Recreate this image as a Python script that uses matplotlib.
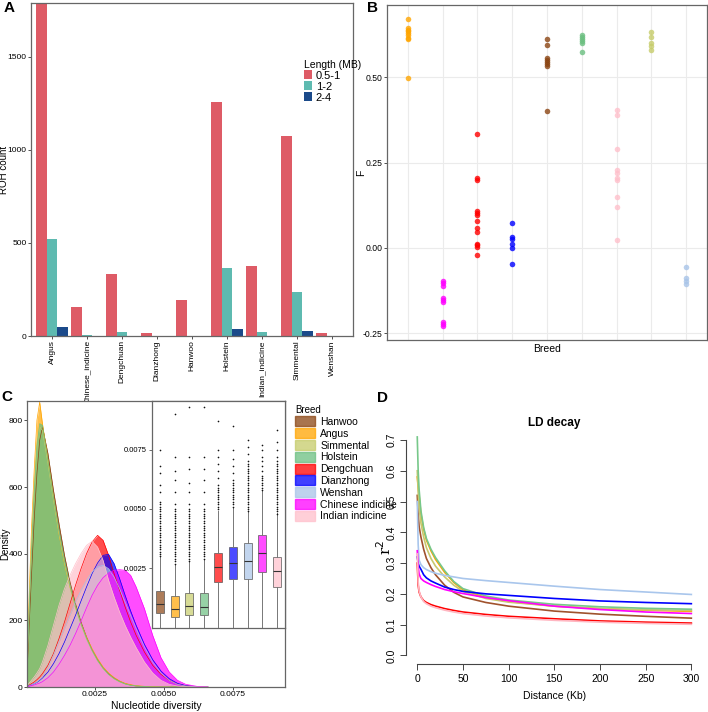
import matplotlib
matplotlib.use("Agg")
import matplotlib.pyplot as plt
from matplotlib.patches import Patch

plt.rcParams['font.family'] = ['Liberation Sans', 'DejaVu Sans']

W, H = 708, 712


def px_box(l, t, r, b):
    # pixel box (left, top, right, bottom) -> figure fraction rect
    return [l / W, 1 - b / H, (r - l) / W, (b - t) / H]


# ---------------- data ----------------
# A: ROH counts per breed and length class
roh_breeds = ['Angus', 'Chinese_indicine', 'Dengchuan', 'Dianzhong', 'Hanwoo',
              'Holstein', 'Indian_indicine', 'Simmental', 'Wenshan']
roh_05_1 = [1790, 157, 335, 15, 195, 1256, 375, 1075, 15]
roh_1_2 = [522, 5, 22, 0, 0, 364, 22, 238, 0]
roh_2_4 = [48, 0, 0, 0, 0, 37, 0, 25, 0]
roh_classes = ['0.5-1', '1-2', '2-4']

# B: inbreeding coefficient F per individual (same breed order as A)
f_angus = [0.671, 0.645, 0.640, 0.635, 0.630, 0.625, 0.615, 0.612, 0.498]
f_chinese = [-0.096, -0.103, -0.110, -0.147, -0.152, -0.158, -0.218, -0.222, -0.228]
f_dengchuan = [0.334, 0.205, 0.200, 0.107, 0.103, 0.098, 0.078, 0.060, 0.046, 0.013, 0.008, 0.003, -0.021]
f_dianzhong = [0.073, 0.031, 0.027, 0.012, 0.0, -0.046]
f_hanwoo = [0.611, 0.595, 0.556, 0.550, 0.544, 0.538, 0.532, 0.402]
f_holstein = [0.625, 0.618, 0.613, 0.606, 0.600, 0.573]
f_indian = [0.404, 0.391, 0.289, 0.229, 0.220, 0.205, 0.200, 0.149, 0.119, 0.023]
f_simmental = [0.632, 0.617, 0.601, 0.591, 0.581]
f_wenshan = [-0.056, -0.089, -0.096, -0.105]
f_values = [f_angus, f_chinese, f_dengchuan, f_dianzhong, f_hanwoo,
            f_holstein, f_indian, f_simmental, f_wenshan]

# C: breed order used in the density / boxplot panel
breeds = ['Hanwoo', 'Angus', 'Simmental', 'Holstein', 'Dengchuan',
          'Dianzhong', 'Wenshan', 'Chinese indicine', 'Indian indicine']
breed_colors = {'Hanwoo': '#8B4513', 'Angus': '#FFA500', 'Simmental': '#C6CC6A',
                'Holstein': '#6BBF80', 'Dengchuan': '#FF0000', 'Dianzhong': '#0000FF',
                'Wenshan': '#A8C4E8', 'Chinese indicine': '#FF00FF',
                'Indian indicine': '#FFC0CB'}

diversity = [0.00004, 0.0001, 0.0002, 0.0003, 0.0004, 0.0005, 0.0006, 0.0008,
             0.0010, 0.0012, 0.0014, 0.0016, 0.0018, 0.0020, 0.0022, 0.0024,
             0.0026, 0.0028, 0.0030, 0.0032, 0.0034, 0.0036, 0.0038, 0.0040,
             0.0043, 0.0046, 0.0049, 0.0052, 0.0055, 0.0058, 0.0062, 0.0066]
dens_hanwoo = [40, 150, 330, 500, 640, 740, 780, 700, 590, 490, 395, 315, 250, 195, 150, 112,
               82, 58, 40, 27, 17, 10, 6, 3, 1, 0, 0, 0, 0, 0, 0, 0]
dens_angus = [60, 230, 470, 650, 800, 855, 790, 680, 570, 460, 370, 300, 240, 190, 150, 115,
              85, 60, 42, 28, 18, 11, 7, 4, 2, 1, 0, 0, 0, 0, 0, 0]
dens_simmental = [50, 200, 420, 600, 730, 780, 770, 670, 560, 460, 372, 298, 236, 186, 143, 108,
                  78, 55, 37, 24, 15, 9, 5, 3, 1, 0, 0, 0, 0, 0, 0, 0]
dens_holstein = [50, 190, 400, 580, 720, 790, 785, 680, 570, 470, 380, 305, 242, 190, 146, 110,
                 80, 56, 38, 25, 16, 9, 5, 3, 1, 0, 0, 0, 0, 0, 0, 0]
dens_dengchuan = [2, 5, 10, 15, 22, 30, 40, 65, 100, 145, 195, 250, 305, 355, 400, 435,
                  455, 440, 395, 340, 290, 240, 195, 155, 105, 65, 38, 20, 9, 4, 1, 0]
dens_dianzhong = [1, 3, 6, 10, 14, 20, 27, 45, 70, 100, 135, 175, 215, 258, 300, 340,
                  372, 395, 398, 370, 325, 275, 228, 185, 128, 82, 48, 25, 11, 4, 1, 0]
dens_wenshan = [1, 3, 6, 10, 15, 22, 30, 58, 95, 135, 175, 215, 255, 290, 320, 345,
                360, 365, 355, 330, 295, 255, 215, 175, 120, 75, 42, 20, 8, 3, 1, 0]
dens_chinese = [1, 2, 4, 6, 9, 12, 16, 28, 45, 68, 95, 125, 160, 198, 238, 275,
                305, 328, 342, 350, 352, 350, 335, 300, 235, 155, 88, 45, 20, 8, 2, 0]
dens_indian = [5, 10, 20, 30, 42, 55, 75, 125, 185, 245, 295, 335, 370, 400, 425, 437,
               420, 380, 320, 270, 225, 185, 150, 118, 75, 42, 20, 8, 3, 1, 0, 0]
densities = [dens_hanwoo, dens_angus, dens_simmental, dens_holstein, dens_dengchuan,
             dens_dianzhong, dens_wenshan, dens_chinese, dens_indian]

# C inset: boxplot summaries (same order as breeds)
box_q1 = [0.00061, 0.00044, 0.00053, 0.00053, 0.00194, 0.00204, 0.00204, 0.00234, 0.00173]
box_med = [0.00100, 0.00080, 0.00092, 0.00089, 0.00257, 0.00271, 0.00279, 0.00313, 0.00237]
box_q3 = [0.00156, 0.00134, 0.00145, 0.00145, 0.00316, 0.00338, 0.00355, 0.00389, 0.00296]
box_lo = [0.00002, 0.00002, 0.00002, 0.00002, 0.00002, 0.00002, 0.00002, 0.00002, 0.00002]
box_hi = [0.00299, 0.00264, 0.00278, 0.00285, 0.00490, 0.00502, 0.00488, 0.00579, 0.00482]
out_hanwoo = [0.0030, 0.0031, 0.0032, 0.0033, 0.0034, 0.0035, 0.0036, 0.0037, 0.0038, 0.0039,
              0.0040, 0.0041, 0.0042, 0.0043, 0.0044, 0.0045, 0.0046, 0.0047, 0.0048, 0.0049,
              0.0050, 0.0051, 0.0052, 0.0053, 0.0057, 0.0060, 0.0065, 0.0068, 0.0075]
out_angus = [0.0027, 0.0028, 0.0029, 0.0030, 0.0031, 0.0032, 0.0033, 0.0034, 0.0035, 0.0036,
             0.0037, 0.0038, 0.0039, 0.0040, 0.0041, 0.0042, 0.0043, 0.0044, 0.0045, 0.0046,
             0.0047, 0.0048, 0.0049, 0.0050, 0.0052, 0.0057, 0.0062, 0.0066, 0.0072, 0.0090]
out_simmental = [0.0028, 0.0029, 0.0030, 0.0031, 0.0032, 0.0033, 0.0034, 0.0035, 0.0036, 0.0037,
                 0.0038, 0.0039, 0.0040, 0.0041, 0.0042, 0.0043, 0.0044, 0.0045, 0.0046, 0.0047,
                 0.0048, 0.0049, 0.0050, 0.0052, 0.0057, 0.0061, 0.0067, 0.0072, 0.0093]
out_holstein = [0.0029, 0.0030, 0.0031, 0.0032, 0.0033, 0.0034, 0.0035, 0.0036, 0.0037, 0.0038,
                0.0039, 0.0040, 0.0041, 0.0042, 0.0043, 0.0044, 0.0045, 0.0046, 0.0047, 0.0048,
                0.0049, 0.0050, 0.0052, 0.0057, 0.0062, 0.0067, 0.0072, 0.0093]
out_dengchuan = [0.0050, 0.0051, 0.0052, 0.0053, 0.0054, 0.0055, 0.0056, 0.0057, 0.0058, 0.0059,
                 0.0060, 0.0063, 0.0066, 0.0069, 0.0072, 0.0075, 0.0087]
out_dianzhong = [0.0051, 0.0052, 0.0053, 0.0054, 0.0055, 0.0056, 0.0057, 0.0058, 0.0059, 0.0060,
                 0.0061, 0.0062, 0.0065, 0.0068, 0.0071, 0.0075, 0.0085]
out_wenshan = [0.0049, 0.0050, 0.0051, 0.0052, 0.0053, 0.0054, 0.0055, 0.0056, 0.0057, 0.0058,
               0.0059, 0.0060, 0.0061, 0.0062, 0.0063, 0.0064, 0.0065, 0.0066, 0.0067, 0.0068,
               0.0069, 0.0070, 0.0073, 0.0076, 0.0079]
out_chinese = [0.0058, 0.0059, 0.0060, 0.0061, 0.0062, 0.0063, 0.0064, 0.0066, 0.0068, 0.0070,
               0.0072, 0.0075, 0.0077]
out_indian = [0.0048, 0.0049, 0.0050, 0.0051, 0.0052, 0.0053, 0.0054, 0.0055, 0.0056, 0.0057,
              0.0058, 0.0059, 0.0060, 0.0061, 0.0062, 0.0063, 0.0064, 0.0065, 0.0066, 0.0067,
              0.0068, 0.0069, 0.0070, 0.0072, 0.0075, 0.0078, 0.0083]
box_out = [out_hanwoo, out_angus, out_simmental, out_holstein, out_dengchuan,
           out_dianzhong, out_wenshan, out_chinese, out_indian]

# D: LD decay (r^2 against distance in Kb)
ld_dist = [0, 1, 2, 4, 7, 10, 15, 20, 30, 40, 50, 75, 100, 150, 200, 250, 300]
ld_hanwoo = [0.52, 0.46, 0.42, 0.385, 0.345, 0.315, 0.285, 0.262, 0.228, 0.205, 0.19, 0.172, 0.16, 0.144, 0.134, 0.127, 0.121]
ld_angus = [0.58, 0.55, 0.52, 0.46, 0.41, 0.375, 0.34, 0.312, 0.27, 0.237, 0.213, 0.188, 0.175, 0.16, 0.152, 0.147, 0.143]
ld_simmental = [0.60, 0.53, 0.48, 0.43, 0.385, 0.35, 0.315, 0.29, 0.255, 0.228, 0.208, 0.185, 0.173, 0.16, 0.152, 0.148, 0.146]
ld_holstein = [0.71, 0.60, 0.54, 0.47, 0.415, 0.38, 0.345, 0.318, 0.275, 0.24, 0.217, 0.193, 0.18, 0.166, 0.158, 0.153, 0.150]
ld_dengchuan = [0.30, 0.228, 0.206, 0.19, 0.178, 0.172, 0.165, 0.16, 0.152, 0.146, 0.141, 0.133, 0.127, 0.119, 0.112, 0.108, 0.105]
ld_dianzhong = [0.32, 0.30, 0.29, 0.28, 0.262, 0.252, 0.242, 0.235, 0.222, 0.214, 0.208, 0.20, 0.195, 0.185, 0.177, 0.172, 0.168]
ld_wenshan = [0.50, 0.36, 0.31, 0.295, 0.285, 0.279, 0.272, 0.267, 0.26, 0.255, 0.25, 0.243, 0.237, 0.225, 0.214, 0.206, 0.198]
ld_chinese = [0.34, 0.29, 0.265, 0.25, 0.242, 0.237, 0.23, 0.224, 0.214, 0.207, 0.201, 0.188, 0.178, 0.16, 0.149, 0.141, 0.136]
ld_indian = [0.33, 0.24, 0.21, 0.19, 0.175, 0.168, 0.16, 0.155, 0.147, 0.141, 0.136, 0.128, 0.122, 0.114, 0.108, 0.104, 0.101]
ld_curves = [ld_hanwoo, ld_angus, ld_simmental, ld_holstein, ld_dengchuan,
             ld_dianzhong, ld_wenshan, ld_chinese, ld_indian]
ld_colors = ['#A0522D', '#FFA500', '#C8C86E', '#77C88A', '#FF0000',
             '#0000FF', '#A9C6EC', '#FF00FF', '#FFB6C1']

# ---------------- figure ----------------
fig = plt.figure(figsize=(W / 100, H / 100), dpi=100)
frame_col = '#666666'
tick_fs = 6

# ---- A ----
axA = fig.add_axes(px_box(31, 3, 353, 336))
pos = list(range(1, len(roh_breeds) + 1))
roh_cols = ['#DE5B66', '#5EBAB0', '#1B4A8A']
for k, (vals, col) in enumerate(zip([roh_05_1, roh_1_2, roh_2_4], roh_cols)):
    axA.bar([p + (k - 1) * 0.3 for p in pos], vals, 0.3, color=col, label=roh_classes[k])
axA.set_xlim(0.4, 9.6)
axA.set_ylim(0, 1790)
axA.set_xticks(pos)
axA.set_xticklabels(roh_breeds, rotation=90, fontsize=6.5)
axA.set_yticks([0, 500, 1000, 1500])
axA.tick_params(labelsize=tick_fs, length=2, width=0.6, color='#333333', pad=1)
axA.set_ylabel('ROH count', fontsize=7)
axA.yaxis.set_label_coords(-0.068, 0.5)
for s in axA.spines.values():
    s.set_color(frame_col)
    s.set_linewidth(0.9)
axA.legend(title='Length (MB)', loc='upper left', bbox_to_anchor=(298 / W, 1 - 54 / H),
           bbox_transform=fig.transFigure, frameon=False, fontsize=8, title_fontsize=7.5,
           handlelength=0.8, handleheight=0.9, labelspacing=0.05, handletextpad=0.3,
           borderpad=0, alignment='left')

# ---- B ----
axB = fig.add_axes(px_box(387, 5, 707, 340))
for i, vals in enumerate(f_values):
    col = breed_colors[roh_breeds[i].replace('_', ' ')]
    axB.scatter([i + 1] * len(vals), vals, s=16, color=col, alpha=0.8, linewidths=0, zorder=3)
axB.set_xlim(0.4, 9.6)
axB.set_ylim(-0.2696, 0.712)
axB.set_xticks(pos)
axB.set_xticklabels([])
axB.set_yticks([-0.25, 0.0, 0.25, 0.50])
axB.set_yticklabels(['-0.25', '0.00', '0.25', '0.50'])
axB.tick_params(axis='y', labelsize=6.2, length=2, width=0.6, color='#333333', pad=1)
axB.tick_params(axis='x', length=0)
axB.grid(True, color='#EBEBEB', linewidth=0.8)
axB.set_axisbelow(True)
axB.set_xlabel('Breed', fontsize=7.5)
axB.xaxis.set_label_coords(0.5, -0.013)
axB.set_ylabel('F', fontsize=7.5)
axB.yaxis.set_label_coords(-0.064, 0.5)
for s in axB.spines.values():
    s.set_color(frame_col)
    s.set_linewidth(0.9)

# ---- C ----
axC = fig.add_axes(px_box(27, 401, 285, 687))
for name, dens in zip(breeds, densities):
    col = breed_colors[name]
    axC.fill_between(diversity, dens, color=col, alpha=0.7, linewidth=0)
    axC.plot(diversity, dens, color=col, linewidth=0.5)
axC.set_xlim(0.00004, 0.0094)
axC.set_ylim(0, 858)
axC.set_xticks([0.0025, 0.0050, 0.0075])
axC.set_xticklabels(['0.0025', '0.0050', '0.0075'])
axC.set_yticks([0, 200, 400, 600, 800])
axC.tick_params(labelsize=tick_fs, length=2, width=0.6, color='#333333', pad=1)
axC.set_xlabel('Nucleotide diversity', fontsize=7.5)
axC.xaxis.set_label_coords(0.5, -0.048)
axC.set_ylabel('Density', fontsize=7)
axC.yaxis.set_label_coords(-0.066, 0.5)
for s in axC.spines.values():
    s.set_color(frame_col)
    s.set_linewidth(0.9)

handles = [Patch(facecolor=breed_colors[b], edgecolor=breed_colors[b], alpha=0.75) for b in breeds]
axC.legend(handles, breeds, title='Breed', loc='upper left', bbox_to_anchor=(290 / W, 1 - 400 / H),
           bbox_transform=fig.transFigure, frameon=False, fontsize=7.5, title_fontsize=7,
           handlelength=1.9, handleheight=1.1, labelspacing=0.12, handletextpad=0.5,
           borderpad=0, alignment='left')

axIn = fig.add_axes(px_box(151.7, 401, 285, 628.3))
stats = []
for i in range(len(breeds)):
    stats.append({'med': box_med[i], 'q1': box_q1[i], 'q3': box_q3[i],
                  'whislo': box_lo[i], 'whishi': box_hi[i], 'fliers': box_out[i]})
bp = axIn.bxp(stats, positions=pos, widths=0.55, patch_artist=True,
              boxprops=dict(edgecolor='#555555', linewidth=0.7),
              medianprops=dict(color='#333333', linewidth=0.8),
              whiskerprops=dict(color='#777777', linewidth=0.7),
              capprops=dict(linewidth=0),
              flierprops=dict(marker='o', markersize=1.2, markerfacecolor='#111111',
                              markeredgecolor='none'))
for patch, name in zip(bp['boxes'], breeds):
    patch.set_facecolor(breed_colors[name])
    patch.set_alpha(0.7)
axIn.set_xlim(0.43, 9.57)
axIn.set_ylim(-0.00002, 0.00954)
axIn.set_xticks([])
axIn.set_yticks([0.0025, 0.0050, 0.0075])
axIn.set_yticklabels(['0.0025', '0.0050', '0.0075'])
axIn.tick_params(labelsize=5.5, length=2, width=0.5, color='#333333', pad=1.5)
for s in axIn.spines.values():
    s.set_color(frame_col)
    s.set_linewidth(0.9)

# ---- D ----
axD = fig.add_axes(px_box(406.3, 431.4, 702.3, 664))
for vals, col in zip(ld_curves, ld_colors):
    axD.plot(ld_dist, vals, color=col, linewidth=1.2)
axD.set_xlim(-12, 312)
axD.set_ylim(-0.028, 0.728)
axD.spines['top'].set_visible(False)
axD.spines['right'].set_visible(False)
axD.spines['left'].set_bounds(0, 0.7)
axD.spines['bottom'].set_bounds(0, 300)
for s in ('left', 'bottom'):
    axD.spines[s].set_color('#444444')
    axD.spines[s].set_linewidth(0.8)
axD.set_xticks([0, 50, 100, 150, 200, 250, 300])
axD.set_yticks([0.0, 0.1, 0.2, 0.3, 0.4, 0.5, 0.6, 0.7])
axD.set_yticklabels(['0.0', '0.1', '0.2', '0.3', '0.4', '0.5', '0.6', '0.7'],
                    rotation=90, va='center')
axD.tick_params(labelsize=7.5, length=4, width=0.7, color='#444444', pad=3)
axD.set_title('LD decay', fontsize=8.5, fontweight='bold', pad=4)
axD.set_xlabel('Distance (Kb)', fontsize=7.5, labelpad=5)
axD.set_ylabel('r$^2$', fontsize=11, family='DejaVu Serif')
axD.yaxis.set_label_coords((394 - 406.3) / 296, (664 - 547) / 232.6)

# panel letters
for letter, x, y in [('A', 9, 8), ('B', 372, 8), ('C', 7, 397), ('D', 383, 398)]:
    fig.text(x / W, 1 - y / H, letter, fontsize=11, fontweight='bold', ha='center', va='center')

fig.savefig('out.png', dpi=100)
